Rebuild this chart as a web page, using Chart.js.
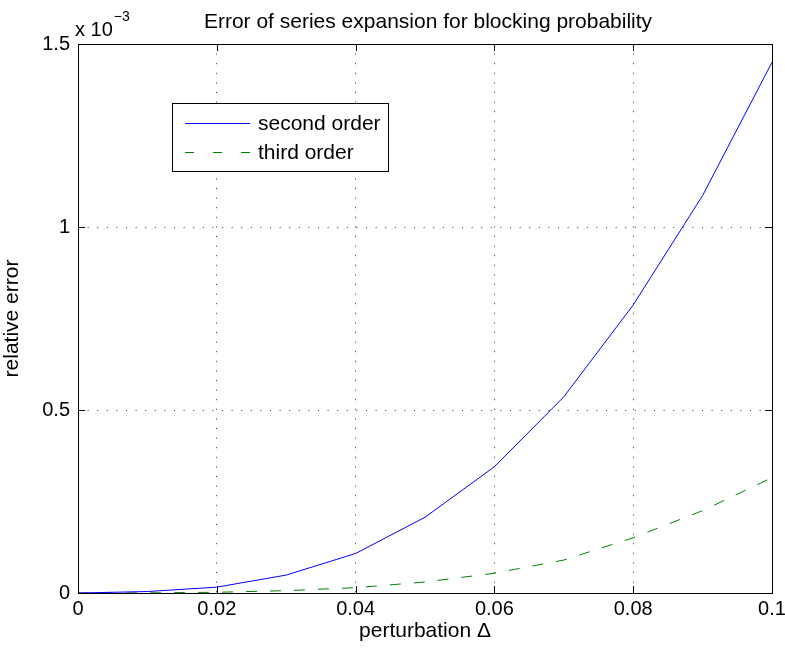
<!DOCTYPE html>
<html>
<head>
<meta charset="utf-8">
<script src="https://cdn.jsdelivr.net/npm/chart.js@4.4.0/dist/chart.umd.min.js"></script>
<style>
html,body{margin:0;padding:0;background:#fff;}
#wrap{width:785px;height:648px;position:relative;}
</style>
</head>
<body>
<div id="wrap"><canvas id="c" width="785" height="648"></canvas></div>
<script>
// Data (y values in units of 1e-3)
const perturbation = [0, 0.01, 0.02, 0.03, 0.04, 0.05, 0.06, 0.07, 0.08, 0.09, 0.1];
const secondOrder = [0, 0.004, 0.016, 0.049, 0.108, 0.207, 0.345, 0.536, 0.787, 1.086, 1.45];
const thirdOrder  = [0, 0.0003, 0.002, 0.0064, 0.0146, 0.030, 0.054, 0.090, 0.151, 0.225, 0.315];
const seriesLabels = ['second order', 'third order'];
const xTickLabels = ['0', '0.02', '0.04', '0.06', '0.08', '0.1'];
const yTickLabels = ['0', '0.5', '1', '1.5'];
const titleText = 'Error of series expansion for blocking probability';
const xTitle = 'perturbation \u0394';
const yTitle = 'relative error';

const FONT = 'Liberation Sans, Arial, Helvetica, sans-serif';

const toPts = (ys) => perturbation.map((x, i) => ({x: x, y: ys[i]}));

const matlabPlugin = {
  id: 'matlab',
  afterDraw(chart) {
    const ctx = chart.ctx;
    const a = chart.chartArea;
    const xs = chart.scales.x, ys = chart.scales.y;
    ctx.save();
    // box
    ctx.strokeStyle = '#000';
    ctx.lineWidth = 1;
    ctx.setLineDash([]);
    ctx.strokeRect(Math.round(a.left) + 0.5, Math.round(a.top) + 0.5, Math.round(a.right - a.left), Math.round(a.bottom - a.top));
    // inward ticks
    const tl = 7;
    ctx.beginPath();
    xs.ticks.forEach(t => {
      const px = Math.round(xs.getPixelForValue(t.value)) + 0.5;
      ctx.moveTo(px, a.bottom); ctx.lineTo(px, a.bottom - tl);
      ctx.moveTo(px, a.top); ctx.lineTo(px, a.top + tl);
    });
    ys.ticks.forEach(t => {
      const py = Math.round(ys.getPixelForValue(t.value)) + 0.5;
      ctx.moveTo(a.left, py); ctx.lineTo(a.left + tl, py);
      ctx.moveTo(a.right, py); ctx.lineTo(a.right - tl, py);
    });
    ctx.stroke();
    // title
    ctx.fillStyle = '#000';
    ctx.font = '21px ' + FONT;
    ctx.textAlign = 'center';
    ctx.textBaseline = 'middle';
    ctx.fillText(titleText, 428, 22);
    // exponent label
    ctx.textAlign = 'left';
    ctx.font = '20px ' + FONT;
    ctx.fillText('x 10', 75, 30);
    const w = ctx.measureText('x 10').width;
    ctx.font = '14px ' + FONT;
    ctx.fillText('\u22123', 75 + w + 1, 17);
    // legend
    const lx = 172, ly = 103, lw = 216, lh = 68;
    ctx.fillStyle = '#fff';
    ctx.fillRect(lx, ly, lw, lh);
    ctx.strokeStyle = '#000';
    ctx.lineWidth = 1;
    ctx.strokeRect(lx + 0.5, ly + 0.5, lw, lh);
    const ds = chart.data.datasets;
    const rows = [123, 152];
    const legendDash = [[], [9, 19]];
    ds.forEach((d, i) => {
      ctx.beginPath();
      ctx.strokeStyle = d.borderColor;
      ctx.lineWidth = 1;
      ctx.setLineDash(legendDash[i]);
      ctx.moveTo(185, rows[i] + 0.5);
      ctx.lineTo(250, rows[i] + 0.5);
      ctx.stroke();
      ctx.setLineDash([]);
      ctx.fillStyle = '#000';
      ctx.font = '21px ' + FONT;
      ctx.textAlign = 'left';
      ctx.textBaseline = 'middle';
      ctx.fillText(d.label, 258, rows[i] + 1);
    });
    ctx.restore();
  }
};

new Chart(document.getElementById('c'), {
  type: 'line',
  data: {
    datasets: [
      { label: seriesLabels[0], data: toPts(secondOrder), borderColor: '#0000ff', borderWidth: 1, pointRadius: 0, tension: 0, fill: false },
      { label: seriesLabels[1], data: toPts(thirdOrder), borderColor: '#008000', borderWidth: 1, borderDash: [11, 13], pointRadius: 0, tension: 0, fill: false }
    ]
  },
  options: {
    responsive: false,
    animation: false,
    devicePixelRatio: 1,
    layout: { padding: { top: 44, right: 13, left: 0, bottom: 0 } },
    plugins: { legend: { display: false }, title: { display: false }, tooltip: { enabled: false } },
    scales: {
      x: {
        type: 'linear', min: 0, max: 0.1,
        ticks: { stepSize: 0.02, color: '#000', font: { family: FONT, size: 20 }, padding: 4, maxRotation: 0,
          callback: (v, i) => xTickLabels[i] },
        grid: { color: '#333', drawTicks: false, lineWidth: 1 },
        border: { display: false, dash: [1, 8.6] },
        title: { display: true, text: xTitle, color: '#000', font: { family: FONT, size: 21 }, padding: { top: 0, bottom: 4 } },
        afterFit(s) { s.height = 55; s.paddingRight = 0; s.paddingLeft = 0; }
      },
      y: {
        type: 'linear', min: 0, max: 1.5,
        ticks: { stepSize: 0.5, color: '#000', font: { family: FONT, size: 20 }, padding: 8,
          callback: (v, i) => yTickLabels[i] },
        grid: { color: '#333', drawTicks: false, lineWidth: 1 },
        border: { display: false, dash: [1, 8.6] },
        title: { display: true, text: yTitle, color: '#000', font: { family: FONT, size: 21 }, padding: { top: 0, bottom: 0 } },
        afterFit(s) { s.width = 78; s.paddingTop = 0; s.paddingBottom = 0; }
      }
    }
  },
  plugins: [matlabPlugin]
});
</script>
</body>
</html>
